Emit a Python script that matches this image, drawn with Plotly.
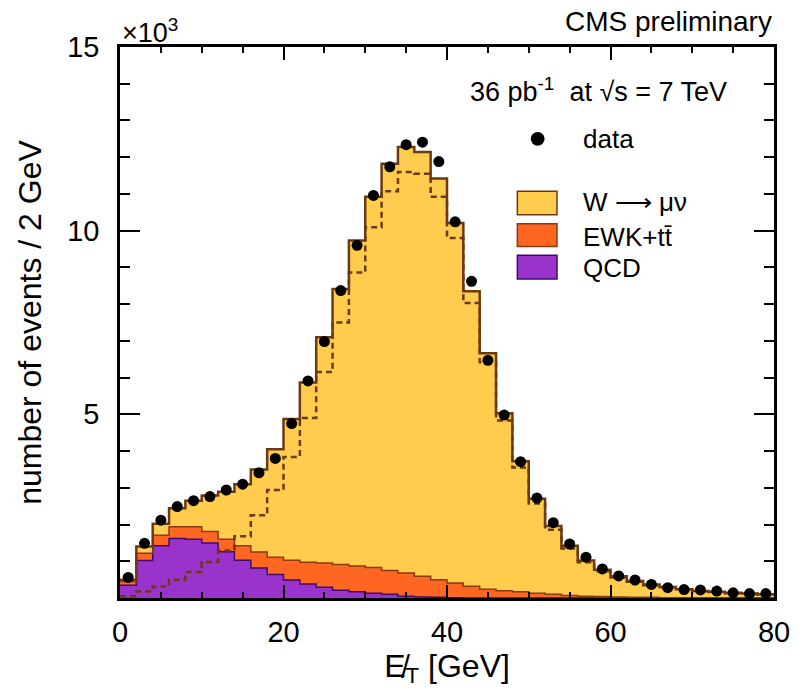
import plotly.graph_objects as go

# Missing-ET histogram, 40 bins of 2 GeV from 0 to 80 GeV. Values in units of 10^3 events.
bin_edges = [2 * i for i in range(41)]
bin_centers = [2 * i + 1 for i in range(40)]

data_counts = [0.56, 1.49, 2.12, 2.49, 2.65, 2.76, 2.94, 3.10, 3.41, 3.80,
               4.75, 5.91, 6.98, 8.37, 9.60, 10.96, 11.74, 12.34, 12.41, 11.88,
               10.24, 8.62, 6.47, 4.98, 3.71, 2.72, 2.05, 1.47, 1.11, 0.79,
               0.60, 0.49, 0.37, 0.28, 0.23, 0.22, 0.19, 0.14, 0.12, 0.12]

qcd = [0.35, 1.02, 1.42, 1.62, 1.60, 1.50, 1.26, 1.03, 0.82, 0.64,
       0.49, 0.38, 0.29, 0.21, 0.17, 0.13, 0.10, 0.05, 0.03, 0.02,
       0.01, 0.0, 0.0, 0.0, 0.0, 0.0, 0.0, 0.0, 0.0, 0.0,
       0.0, 0.0, 0.0, 0.0, 0.0, 0.0, 0.0, 0.0, 0.0, 0.0]

ewk_ttbar = [0.10, 0.20, 0.29, 0.32, 0.34, 0.31, 0.34, 0.39, 0.43, 0.47,
             0.54, 0.59, 0.66, 0.70, 0.70, 0.70, 0.65, 0.63, 0.56, 0.48,
             0.40, 0.32, 0.24, 0.20, 0.17, 0.13, 0.10, 0.07, 0.05, 0.04,
             0.03, 0.02, 0.02, 0.01, 0.01, 0.01, 0.01, 0.01, 0.01, 0.01]

w_munu = [0.05, 0.18, 0.31, 0.50, 0.71, 0.98, 1.29, 1.68, 2.25, 2.94,
          3.84, 4.90, 6.15, 7.50, 8.86, 10.09, 11.07, 11.60, 11.55, 10.92,
          9.80, 8.03, 6.42, 4.83, 3.55, 2.57, 1.86, 1.35, 0.97, 0.73,
          0.56, 0.44, 0.35, 0.29, 0.23, 0.18, 0.16, 0.13, 0.11, 0.09]

YELLOW = "#FFCC4D"
ORANGE = "#FF6622"
PURPLE = "#9933CC"
BROWN = "#6B3A10"
FONT = "Liberation Sans, Arial, sans-serif"

stack1 = qcd
stack2 = [a + b for a, b in zip(qcd, ewk_ttbar)]
stack3 = [a + b for a, b in zip(stack2, w_munu)]


def step(vals):
    return list(vals) + [vals[-1]]


fig = go.Figure()
fig.add_trace(go.Scatter(x=bin_edges, y=step(stack1), mode="lines", line_shape="hv",
                         line=dict(color="#3D0A70", width=1.5), fill="tozeroy",
                         fillcolor=PURPLE, showlegend=False, hoverinfo="skip"))
fig.add_trace(go.Scatter(x=bin_edges, y=step(stack2), mode="lines", line_shape="hv",
                         line=dict(color="#8A3A10", width=1.5), fill="tonexty",
                         fillcolor=ORANGE, showlegend=False, hoverinfo="skip"))
fig.add_trace(go.Scatter(x=bin_edges, y=step(stack3), mode="lines", line_shape="hv",
                         line=dict(color=BROWN, width=2.5), fill="tonexty",
                         fillcolor=YELLOW, showlegend=False, hoverinfo="skip"))
fig.add_trace(go.Scatter(x=bin_edges, y=step(w_munu), mode="lines", line_shape="hv",
                         line=dict(color=BROWN, width=2.5, dash="6px,4px"),
                         showlegend=False, hoverinfo="skip"))
fig.add_trace(go.Scatter(x=bin_centers, y=data_counts, mode="markers",
                         marker=dict(color="black", size=11), showlegend=False))

W, H = 802, 690
L, R, T, B = 120, 22, 47, 85
PW, PH = W - L - R, H - T - B


def px(x):
    return (x - L) / PW


def py(y):
    return (H - B - y) / PH


shapes = []
# legend swatches
for (y0, y1, col, lc) in [(193, 217, YELLOW, BROWN), (226, 249, ORANGE, "#8A3A10"),
                          (258, 282, PURPLE, "#3D0A70")]:
    shapes.append(dict(type="rect", xref="paper", yref="paper",
                       x0=px(521), x1=px(561), y0=py(y1), y1=py(y0),
                       fillcolor=col, line=dict(color=lc, width=1.5)))
shapes.append(dict(type="circle", xref="paper", yref="paper",
                   x0=px(534.5), x1=px(548.5), y0=py(147), y1=py(133),
                   fillcolor="black", line=dict(color="black", width=0)))

TXT = dict(xref="paper", yref="paper", showarrow=False, yanchor="middle")
annotations = [
    dict(text="CMS preliminary", x=1.0, y=py(21), xanchor="right",
         font=dict(size=28, family=FONT, color="black"), **TXT),
    dict(text="×10<sup>3</sup>", x=0.0, y=py(31), xanchor="left",
         font=dict(size=27, family=FONT, color="black"), **TXT),
    dict(text="36 pb<sup>-1</sup>  at √s = 7 TeV", x=px(735), y=py(91), xanchor="right",
         font=dict(size=27, family=FONT, color="black"), **TXT),
    dict(text="data", x=px(585), y=py(140), xanchor="left",
         font=dict(size=26, family=FONT, color="black"), **TXT),
    dict(text="W ⟶ μν", x=px(585), y=py(204), xanchor="left",
         font=dict(size=26, family=FONT, color="black"), **TXT),
    dict(text="EWK+tt\u0304", x=px(585), y=py(239), xanchor="left",
         font=dict(size=26, family=FONT, color="black"), **TXT),
    dict(text="QCD", x=px(585), y=py(271), xanchor="left",
         font=dict(size=26, family=FONT, color="black"), **TXT),
]

fig.update_layout(
    width=W, height=H,
    margin=dict(l=L, r=R, t=T, b=B, pad=0),
    paper_bgcolor="white", plot_bgcolor="white",
    font=dict(family=FONT, color="black"),
    shapes=shapes, annotations=annotations,
    xaxis=dict(range=[0, 80], tickvals=[0, 20, 40, 60, 80], ticks="inside", ticklen=13,
               tickwidth=2, tickcolor="black", showline=True, linewidth=2.5,
               linecolor="black", mirror="ticks", showgrid=False, zeroline=False,
               tickfont=dict(size=29, family=FONT), ticklabelstandoff=6,
               minor=dict(dtick=5, ticks="inside", ticklen=6, tickwidth=1.5,
                          tickcolor="black", showgrid=False),
               title=dict(text="E\u0338<sub>T</sub> [GeV]", font=dict(size=32, family=FONT),
                          standoff=8)),
    yaxis=dict(range=[0, 15], tickvals=[5, 10, 15], ticks="inside", ticklen=20,
               tickwidth=2, tickcolor="black", showline=True, linewidth=2.5,
               linecolor="black", mirror="ticks", showgrid=False, zeroline=False,
               tickfont=dict(size=29, family=FONT), ticklabelstandoff=12,
               minor=dict(dtick=1, ticks="inside", ticklen=10, tickwidth=1.5,
                          tickcolor="black", showgrid=False),
               title=dict(text="number of events / 2 GeV", font=dict(size=32, family=FONT),
                          standoff=16)),
)

fig.write_html("out.html")
